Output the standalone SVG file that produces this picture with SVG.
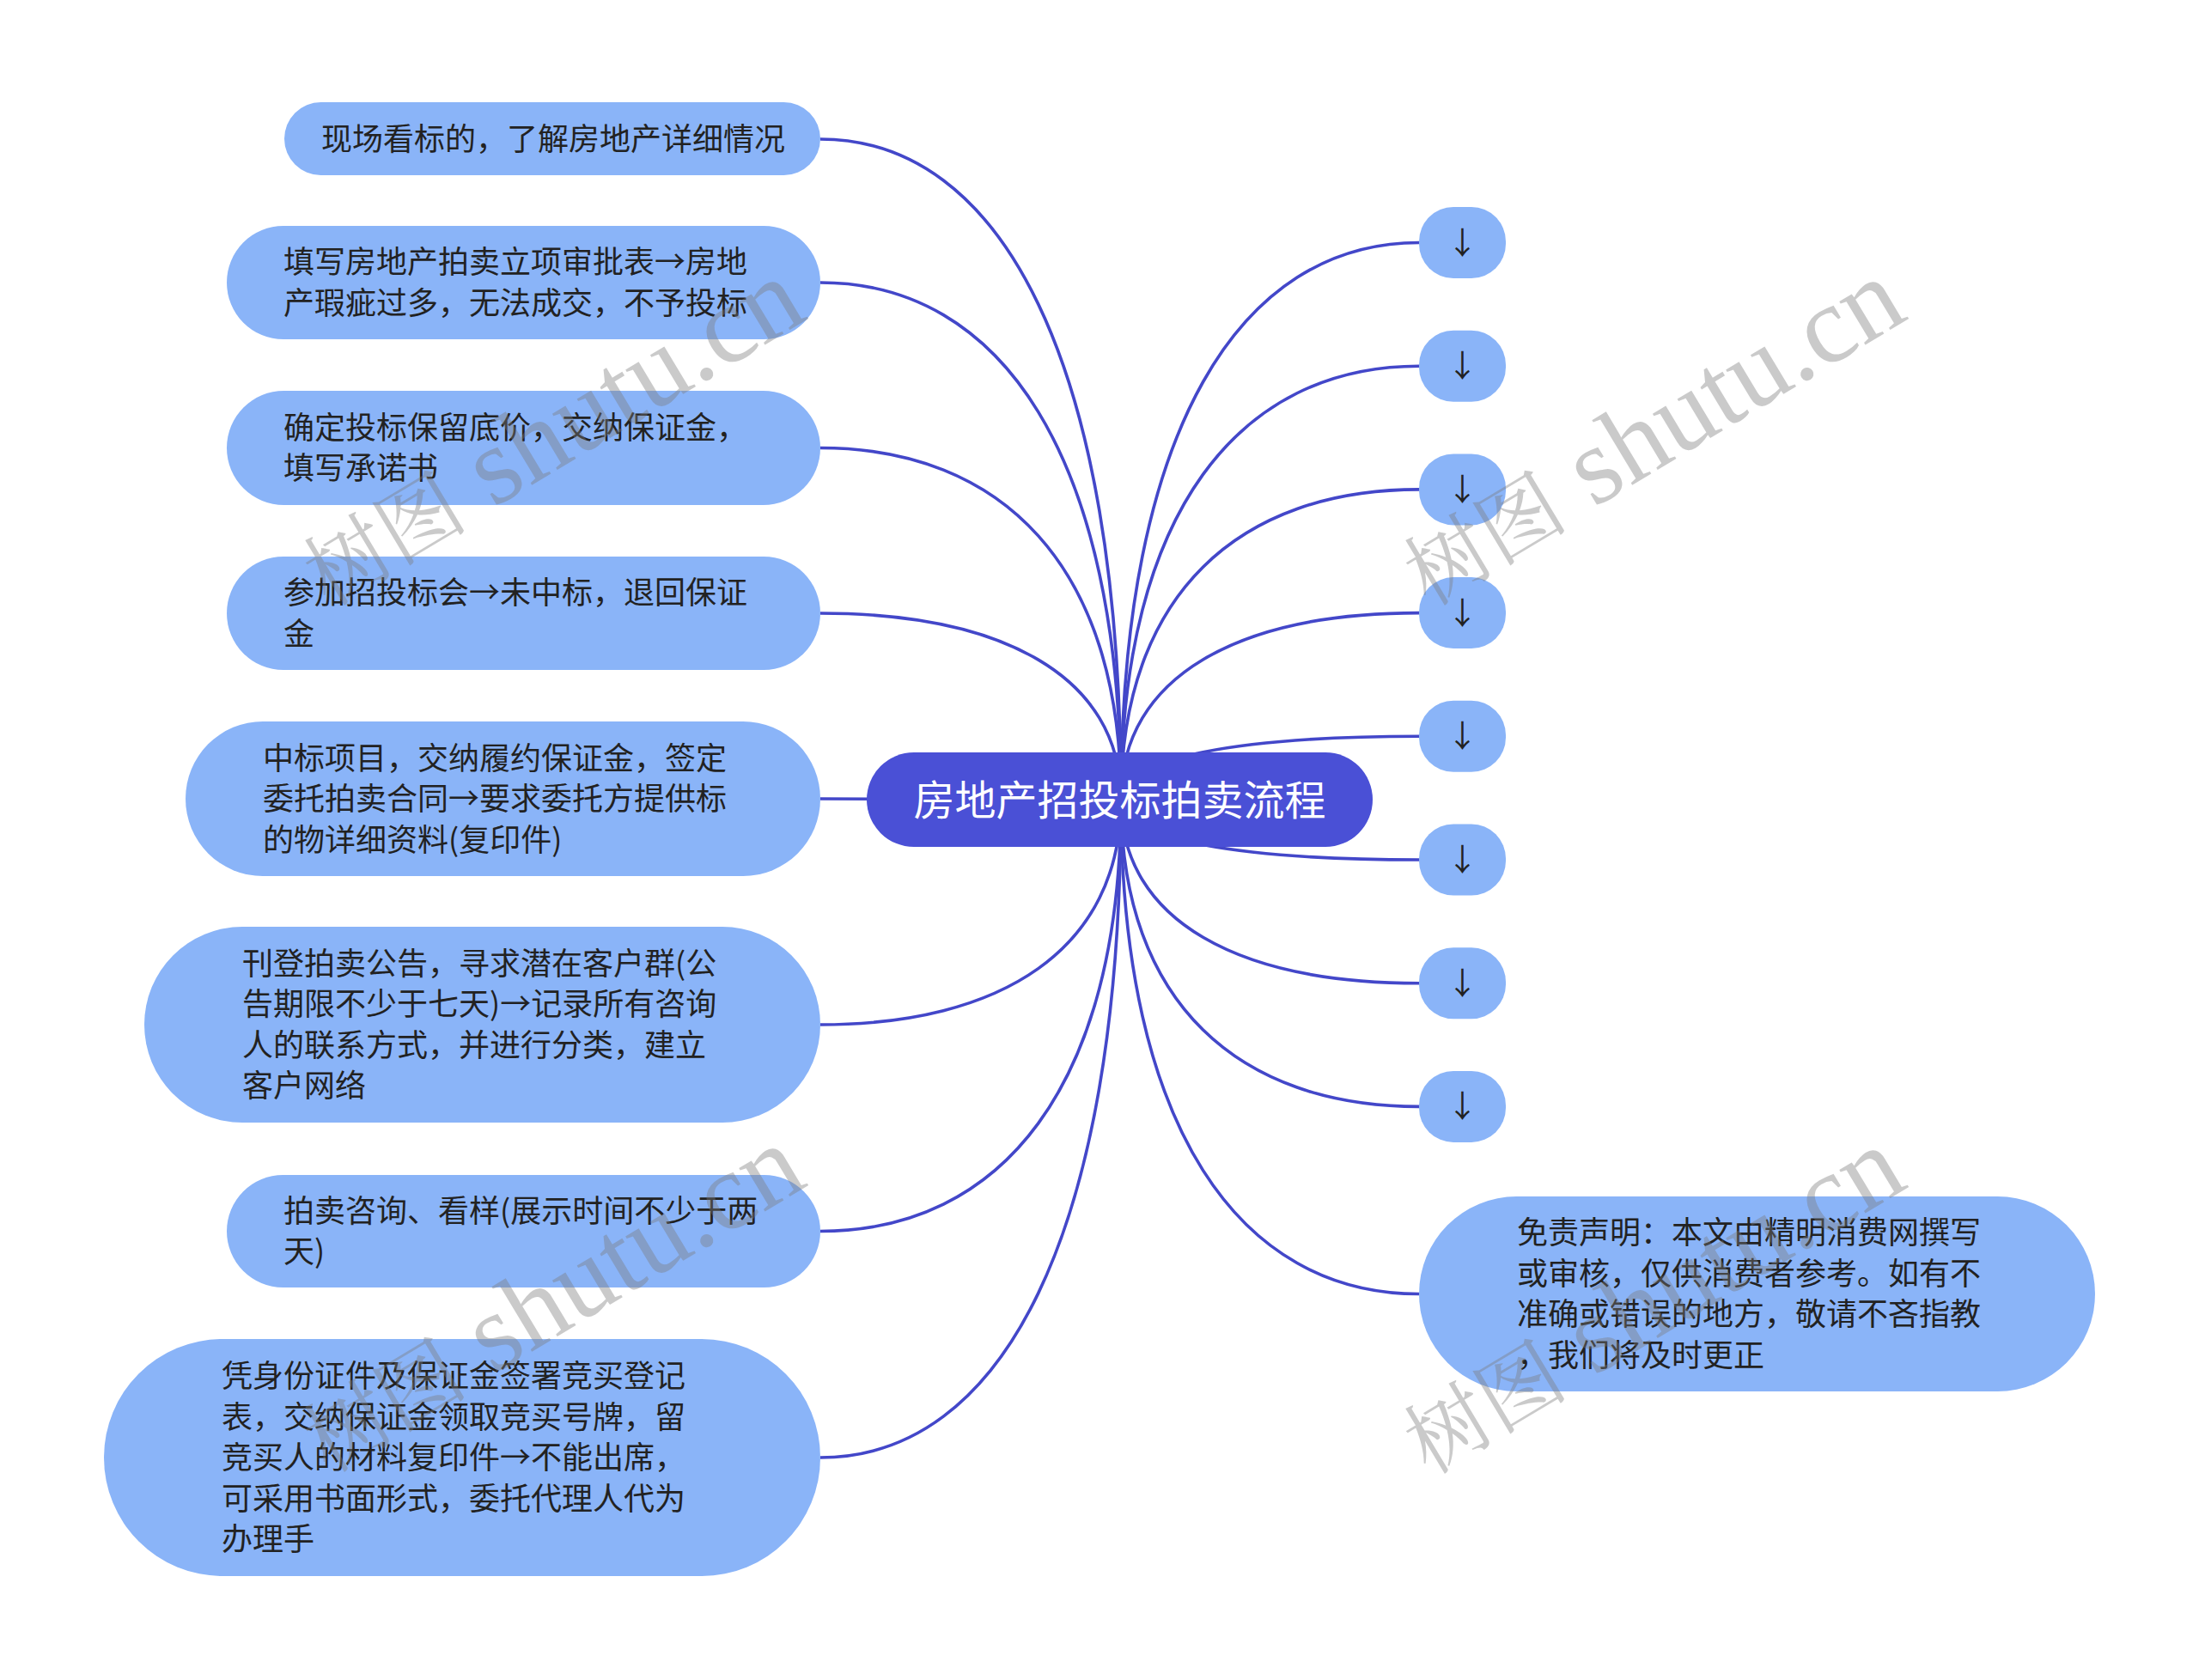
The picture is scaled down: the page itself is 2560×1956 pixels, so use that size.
<svg xmlns="http://www.w3.org/2000/svg" width="2560" height="1956" viewBox="0 0 2560 1956">
<style>
.bg{fill:#ffffff}
.link{fill:none;stroke:#4347C9;stroke-width:3.6}
.sub{fill:#8AB4F8}
.root{fill:#4A50D6}
.t{font-family:"Noto Sans CJK SC","Noto Sans",sans-serif;font-size:36px;fill:#222222}
.rt{font-family:"Noto Sans CJK SC","Noto Sans",sans-serif;font-size:48px;fill:#ffffff}
.ar{font-family:"Noto Sans CJK SC","Noto Sans",sans-serif;font-size:36px;fill:#222222;text-anchor:middle}
.wm{fill:#7a7a7a;fill-opacity:0.4;text-anchor:middle}
.wmc{font-family:"Noto Serif CJK SC","Noto Sans CJK SC",serif;font-size:96px}
.wml{font-family:"Liberation Serif",serif;font-size:128px}
</style>
<rect class="bg" x="0" y="0" width="2560" height="1956"/>
<g id="connectors">
<path class="link" d="M1305 931 C1305 418 1165 162 955 162"/>
<path class="link" d="M1305 931 C1305 530 1165 329 955 329"/>
<path class="link" d="M1305 931 C1305 658 1165 521.5 955 521.5"/>
<path class="link" d="M1305 931 C1305 786 1165 714 955 714"/>
<path class="link" d="M1305 931 C1305 930 1165 930 955 930"/>
<path class="link" d="M1305 931 C1305 1106 1165 1193 955 1193"/>
<path class="link" d="M1305 931 C1305 1266 1165 1433.5 955 1433.5"/>
<path class="link" d="M1305 931 C1305 1442 1165 1697 955 1697"/>
<path class="link" d="M1305 931 C1305 499 1444 282.5 1652 282.5"/>
<path class="link" d="M1305 931 C1305 594.5 1444 426.2 1652 426.2"/>
<path class="link" d="M1305 931 C1305 690.3 1444 569.9 1652 569.9"/>
<path class="link" d="M1305 931 C1305 786.1 1444 713.6 1652 713.6"/>
<path class="link" d="M1305 931 C1305 881.9 1444 857.3 1652 857.3"/>
<path class="link" d="M1305 931 C1305 977.7 1444 1001 1652 1001"/>
<path class="link" d="M1305 931 C1305 1073.5 1444 1144.7 1652 1144.7"/>
<path class="link" d="M1305 931 C1305 1169.3 1444 1288.4 1652 1288.4"/>
<path class="link" d="M1305 931 C1305 1314.7 1444 1506.5 1652 1506.5"/>
</g>
<g id="root">
<rect class="root" x="1009" y="876" width="589" height="110" rx="55"/>
<text class="rt" x="1303.5" y="948.5" text-anchor="middle">房地产招投标拍卖流程</text>
</g>
<g id="n1">
<rect class="sub" x="331" y="119" width="624" height="85" rx="42.5"/>
<text class="t" x="374" y="174.5">现场看标的，了解房地产详细情况</text>
</g>
<g id="n2">
<rect class="sub" x="264" y="263" width="691" height="132" rx="66"/>
<text class="t"><tspan x="330" y="318.25">填写房地产拍卖立项审批表→房地</tspan><tspan x="330" y="365.75">产瑕疵过多，无法成交，不予投标</tspan></text>
</g>
<g id="n3">
<rect class="sub" x="264" y="455" width="691" height="133" rx="66.5"/>
<text class="t"><tspan x="330" y="510.75">确定投标保留底价，交纳保证金，</tspan><tspan x="330" y="558.25">填写承诺书</tspan></text>
</g>
<g id="n4">
<rect class="sub" x="264" y="648" width="691" height="132" rx="66"/>
<text class="t"><tspan x="330" y="703.25">参加招投标会→未中标，退回保证</tspan><tspan x="330" y="750.75">金</tspan></text>
</g>
<g id="n5">
<rect class="sub" x="216" y="840" width="739" height="180" rx="90"/>
<text class="t"><tspan x="306" y="895.5">中标项目，交纳履约保证金，签定</tspan><tspan x="306" y="943">委托拍卖合同→要求委托方提供标</tspan><tspan x="306" y="990.5">的物详细资料(复印件)</tspan></text>
</g>
<g id="n6">
<rect class="sub" x="168" y="1079" width="787" height="228" rx="114"/>
<text class="t"><tspan x="282" y="1134.75">刊登拍卖公告，寻求潜在客户群(公</tspan><tspan x="282" y="1182.25">告期限不少于七天)→记录所有咨询</tspan><tspan x="282" y="1229.75">人的联系方式，并进行分类，建立</tspan><tspan x="282" y="1277.25">客户网络</tspan></text>
</g>
<g id="n7">
<rect class="sub" x="264" y="1368" width="691" height="131" rx="65.5"/>
<text class="t"><tspan x="330" y="1422.75">拍卖咨询、看样(展示时间不少于两</tspan><tspan x="330" y="1470.25">天)</tspan></text>
</g>
<g id="n8">
<rect class="sub" x="121" y="1559" width="834" height="276" rx="138"/>
<text class="t"><tspan x="258" y="1615">凭身份证件及保证金签署竞买登记</tspan><tspan x="258" y="1662.5">表，交纳保证金领取竞买号牌，留</tspan><tspan x="258" y="1710">竞买人的材料复印件→不能出席，</tspan><tspan x="258" y="1757.5">可采用书面形式，委托代理人代为</tspan><tspan x="258" y="1805">办理手</tspan></text>
</g>
<g id="r1"><rect class="sub" x="1652" y="241" width="101" height="83" rx="40"/><text class="ar" x="1702.5" y="295.5">↓</text></g>
<g id="r2"><rect class="sub" x="1652" y="384.7" width="101" height="83" rx="40"/><text class="ar" x="1702.5" y="439.2">↓</text></g>
<g id="r3"><rect class="sub" x="1652" y="528.4" width="101" height="83" rx="40"/><text class="ar" x="1702.5" y="582.9">↓</text></g>
<g id="r4"><rect class="sub" x="1652" y="672.1" width="101" height="83" rx="40"/><text class="ar" x="1702.5" y="726.6">↓</text></g>
<g id="r5"><rect class="sub" x="1652" y="815.8" width="101" height="83" rx="40"/><text class="ar" x="1702.5" y="870.3">↓</text></g>
<g id="r6"><rect class="sub" x="1652" y="959.5" width="101" height="83" rx="40"/><text class="ar" x="1702.5" y="1014">↓</text></g>
<g id="r7"><rect class="sub" x="1652" y="1103.2" width="101" height="83" rx="40"/><text class="ar" x="1702.5" y="1157.7">↓</text></g>
<g id="r8"><rect class="sub" x="1652" y="1246.9" width="101" height="83" rx="40"/><text class="ar" x="1702.5" y="1301.4">↓</text></g>
<g id="disclaimer">
<rect class="sub" x="1652" y="1393" width="787" height="227" rx="113.5"/>
<text class="t"><tspan x="1766" y="1448.25">免责声明：本文由精明消费网撰写</tspan><tspan x="1766" y="1495.75">或审核，仅供消费者参考。如有不</tspan><tspan x="1766" y="1543.25">准确或错误的地方，敬请不吝指教</tspan><tspan x="1766" y="1590.75">，我们将及时更正</tspan></text>
</g>
<g id="watermarks">
<text class="wm" transform="translate(643 506) rotate(-31)" y="38"><tspan class="wmc">树图</tspan><tspan class="wml"> shutu.cn</tspan></text>
<text class="wm" transform="translate(1924 506) rotate(-31)" y="38"><tspan class="wmc">树图</tspan><tspan class="wml"> shutu.cn</tspan></text>
<text class="wm" transform="translate(643 1515) rotate(-31)" y="38"><tspan class="wmc">树图</tspan><tspan class="wml"> shutu.cn</tspan></text>
<text class="wm" transform="translate(1924 1517) rotate(-31)" y="38"><tspan class="wmc">树图</tspan><tspan class="wml"> shutu.cn</tspan></text>
</g>
</svg>
